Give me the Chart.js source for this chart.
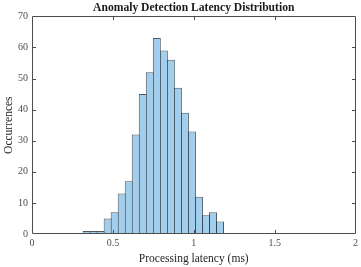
<!DOCTYPE html>
<html>
<head>
<meta charset="utf-8">
<script src="https://cdn.jsdelivr.net/npm/chart.js@4/dist/chart.umd.min.js"></script>
<style>
html,body{margin:0;padding:0;background:#fff;}
#wrap{width:361px;height:267px;}
</style>
</head>
<body>
<div id="wrap"><canvas id="c" width="361" height="267"></canvas></div>
<script>
const binCenters = [0.3377,0.3811,0.4245,0.4679,0.5113,0.5547,0.5981,0.6415,0.6849,0.7283,
                    0.7717,0.8151,0.8585,0.9019,0.9453,0.9887,1.0321,1.0755,1.1189,1.1623];
const counts = [1,1,1,5,7,13,17,32,45,52,63,59,56,47,39,33,12,6,7,4];
const xTicks = [0,0.5,1,1.5,2];
const yTicks = [0,10,20,30,40,50,60,70];
const titleText = 'Anomaly Detection Latency Distribution';
const xLabel = 'Processing latency (ms)';
const yLabel = 'Occurrences';

const FONT = "'Liberation Serif', 'DejaVu Serif', serif";
const AXIS = '#4d4d4d';

const framePlugin = {
  id: 'frame',
  afterDatasetsDraw(chart) {
    const {ctx, chartArea: a, scales} = chart;
    const L = Math.round(a.left) + 0.5, R = Math.round(a.right) - 0.5;
    const T = Math.round(a.top) + 0.5, B = Math.round(a.bottom) - 0.5;
    ctx.save();
    ctx.strokeStyle = AXIS;
    ctx.lineWidth = 1;
    ctx.beginPath();
    ctx.rect(L, T, R - L, B - T);
    const tl = 3.5;
    scales.x.ticks.forEach(t => {
      const px = Math.round(scales.x.getPixelForValue(t.value)) + 0.5;
      if (px <= L + 1 || px >= R - 1) return;
      ctx.moveTo(px, B); ctx.lineTo(px, B - tl);
      ctx.moveTo(px, T); ctx.lineTo(px, T + tl);
    });
    scales.y.ticks.forEach(t => {
      const py = Math.round(scales.y.getPixelForValue(t.value)) + 0.5;
      if (py <= T + 1 || py >= B - 1) return;
      ctx.moveTo(L, py); ctx.lineTo(L + tl, py);
      ctx.moveTo(R, py); ctx.lineTo(R - tl, py);
    });
    ctx.stroke();
    ctx.restore();
  }
};

new Chart(document.getElementById('c'), {
  type: 'bar',
  data: {
    datasets: [{
      data: binCenters.map((x, i) => ({x: x, y: counts[i]})),
      backgroundColor: 'rgb(160,206,236)',
      borderColor: 'rgba(45,60,72,0.85)',
      borderWidth: 1,
      borderSkipped: false,
      barPercentage: 1.14,
      categoryPercentage: 1.0
    }]
  },
  options: {
    responsive: false,
    animation: false,
    devicePixelRatio: 1,
    layout: {padding: {left: 2, right: 1, top: 0, bottom: 0}},
    plugins: {
      legend: {display: false},
      tooltip: {enabled: false},
      title: {
        display: true,
        text: titleText,
        fullSize: false,
        color: '#1a1a1a',
        font: {family: FONT, size: 11.6, weight: 'bold', lineHeight: 1.15},
        padding: {top: 1, bottom: 2}
      }
    },
    scales: {
      x: {
        type: 'linear',
        offset: false,
        min: 0, max: 2,
        afterBuildTicks: s => { s.ticks = xTicks.map(v => ({value: v})); },
        grid: {display: false, drawTicks: false},
        border: {display: false},
        ticks: {color: '#4d4d4d', font: {family: FONT, size: 10}, padding: 3, maxRotation: 0,
                callback: v => String(v)},
        title: {display: true, text: xLabel, color: '#262626', font: {family: FONT, size: 11.5}, padding: {top: 2, bottom: 1}},
        afterFit: s => { s.height = 33; }
      },
      y: {
        type: 'linear',
        min: 0, max: 70,
        afterBuildTicks: s => { s.ticks = yTicks.map(v => ({value: v})); },
        grid: {display: false, drawTicks: false},
        border: {display: false},
        ticks: {color: '#4d4d4d', font: {family: FONT, size: 10}, padding: 4,
                callback: v => String(v)},
        title: {display: true, text: yLabel, color: '#262626', font: {family: FONT, size: 11.5}, padding: {top: 0, bottom: 3}},
        afterFit: s => { s.width = 30; }
      }
    }
  },
  plugins: [framePlugin]
});
</script>
</body>
</html>
